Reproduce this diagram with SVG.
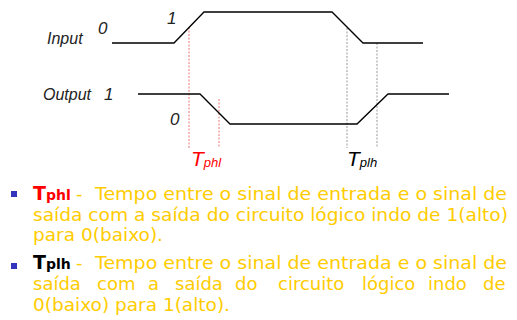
<svg xmlns="http://www.w3.org/2000/svg" width="517" height="320" viewBox="0 0 517 320">
<style>
.sig{fill:none;stroke:#000;stroke-width:1.3}
.dr{stroke:#ee7777;stroke-width:1;stroke-dasharray:2 1.5}
.dg{stroke:#999;stroke-width:1;stroke-dasharray:2 1.5}
.lbl{font-family:"Liberation Sans",Arial,sans-serif;font-style:italic;fill:#222}
.body{font-family:"DejaVu Sans","Noto Sans",sans-serif;font-size:18px;fill:#ffcc00}
.tb{font-family:"DejaVu Sans","Noto Sans",sans-serif;font-weight:bold}
.bul{fill:#3333bb}
</style>
<rect width="517" height="320" fill="#fff"/>
<g id="guides">
<line class="dr" x1="189" y1="27" x2="189" y2="148"/>
<line class="dr" x1="219" y1="99" x2="219" y2="148"/>
<line class="dg" x1="347" y1="28" x2="347" y2="148"/>
<line class="dg" x1="377" y1="43" x2="377" y2="148"/>
</g>
<g id="input-signal">
<path class="sig" d="M112,43 H174 L204,12 H332 L363,43 H423"/>
<text class="lbl" x="47" y="44" font-size="16">Input</text>
<text class="lbl" x="98" y="34" font-size="17">0</text>
<text class="lbl" x="167" y="24" font-size="17">1</text>
</g>
<g id="output-signal">
<path class="sig" d="M138,94 H200 L230,124 H357 L388,94 H449"/>
<text class="lbl" x="43" y="100" font-size="16">Output</text>
<text class="lbl" x="104" y="100" font-size="17">1</text>
<text class="lbl" x="170" y="125" font-size="17">0</text>
</g>
<g id="tphl-label">
<text class="lbl" x="191" y="166" font-size="21" style="fill:#ff0000">T<tspan font-size="13" dy="1">phl</tspan></text>
</g>
<g id="tplh-label">
<text class="lbl" x="347" y="166" font-size="21" style="fill:#000">T<tspan font-size="13" dy="1">plh</tspan></text>
</g>
<g id="bullet1">
<rect class="bul" x="11" y="191" width="6" height="6"/>
<text class="tb" x="33" y="200" font-size="19" fill="#ff0000">T<tspan font-size="14">phl</tspan></text>
<text class="body" x="76" y="200">-</text>
<text class="body" x="95" y="200" textLength="412" lengthAdjust="spacingAndGlyphs">Tempo entre o sinal de entrada e o sinal de</text>
<text class="body" x="33" y="221" textLength="475" lengthAdjust="spacingAndGlyphs">saída com a saída do circuito lógico indo de 1(alto)</text>
<text class="body" x="33" y="241" textLength="130" lengthAdjust="spacingAndGlyphs">para 0(baixo).</text>
</g>
<g id="bullet2">
<rect class="bul" x="11" y="263" width="6" height="6"/>
<text class="tb" x="33" y="269" font-size="19" fill="#000">T<tspan font-size="14">plh</tspan></text>
<text class="body" x="76" y="269">-</text>
<text class="body" x="95" y="269" textLength="412" lengthAdjust="spacingAndGlyphs">Tempo entre o sinal de entrada e o sinal de</text>
<text class="body" y="290"><tspan x="33">saída</tspan><tspan x="97">com</tspan><tspan x="148">a</tspan><tspan x="175">saída</tspan><tspan x="235">do</tspan><tspan x="278">circuito</tspan><tspan x="362">lógico</tspan><tspan x="428">indo</tspan><tspan x="483">de</tspan></text>
<text class="body" x="33" y="311" textLength="197" lengthAdjust="spacingAndGlyphs">0(baixo) para 1(alto).</text>
</g>
</svg>
